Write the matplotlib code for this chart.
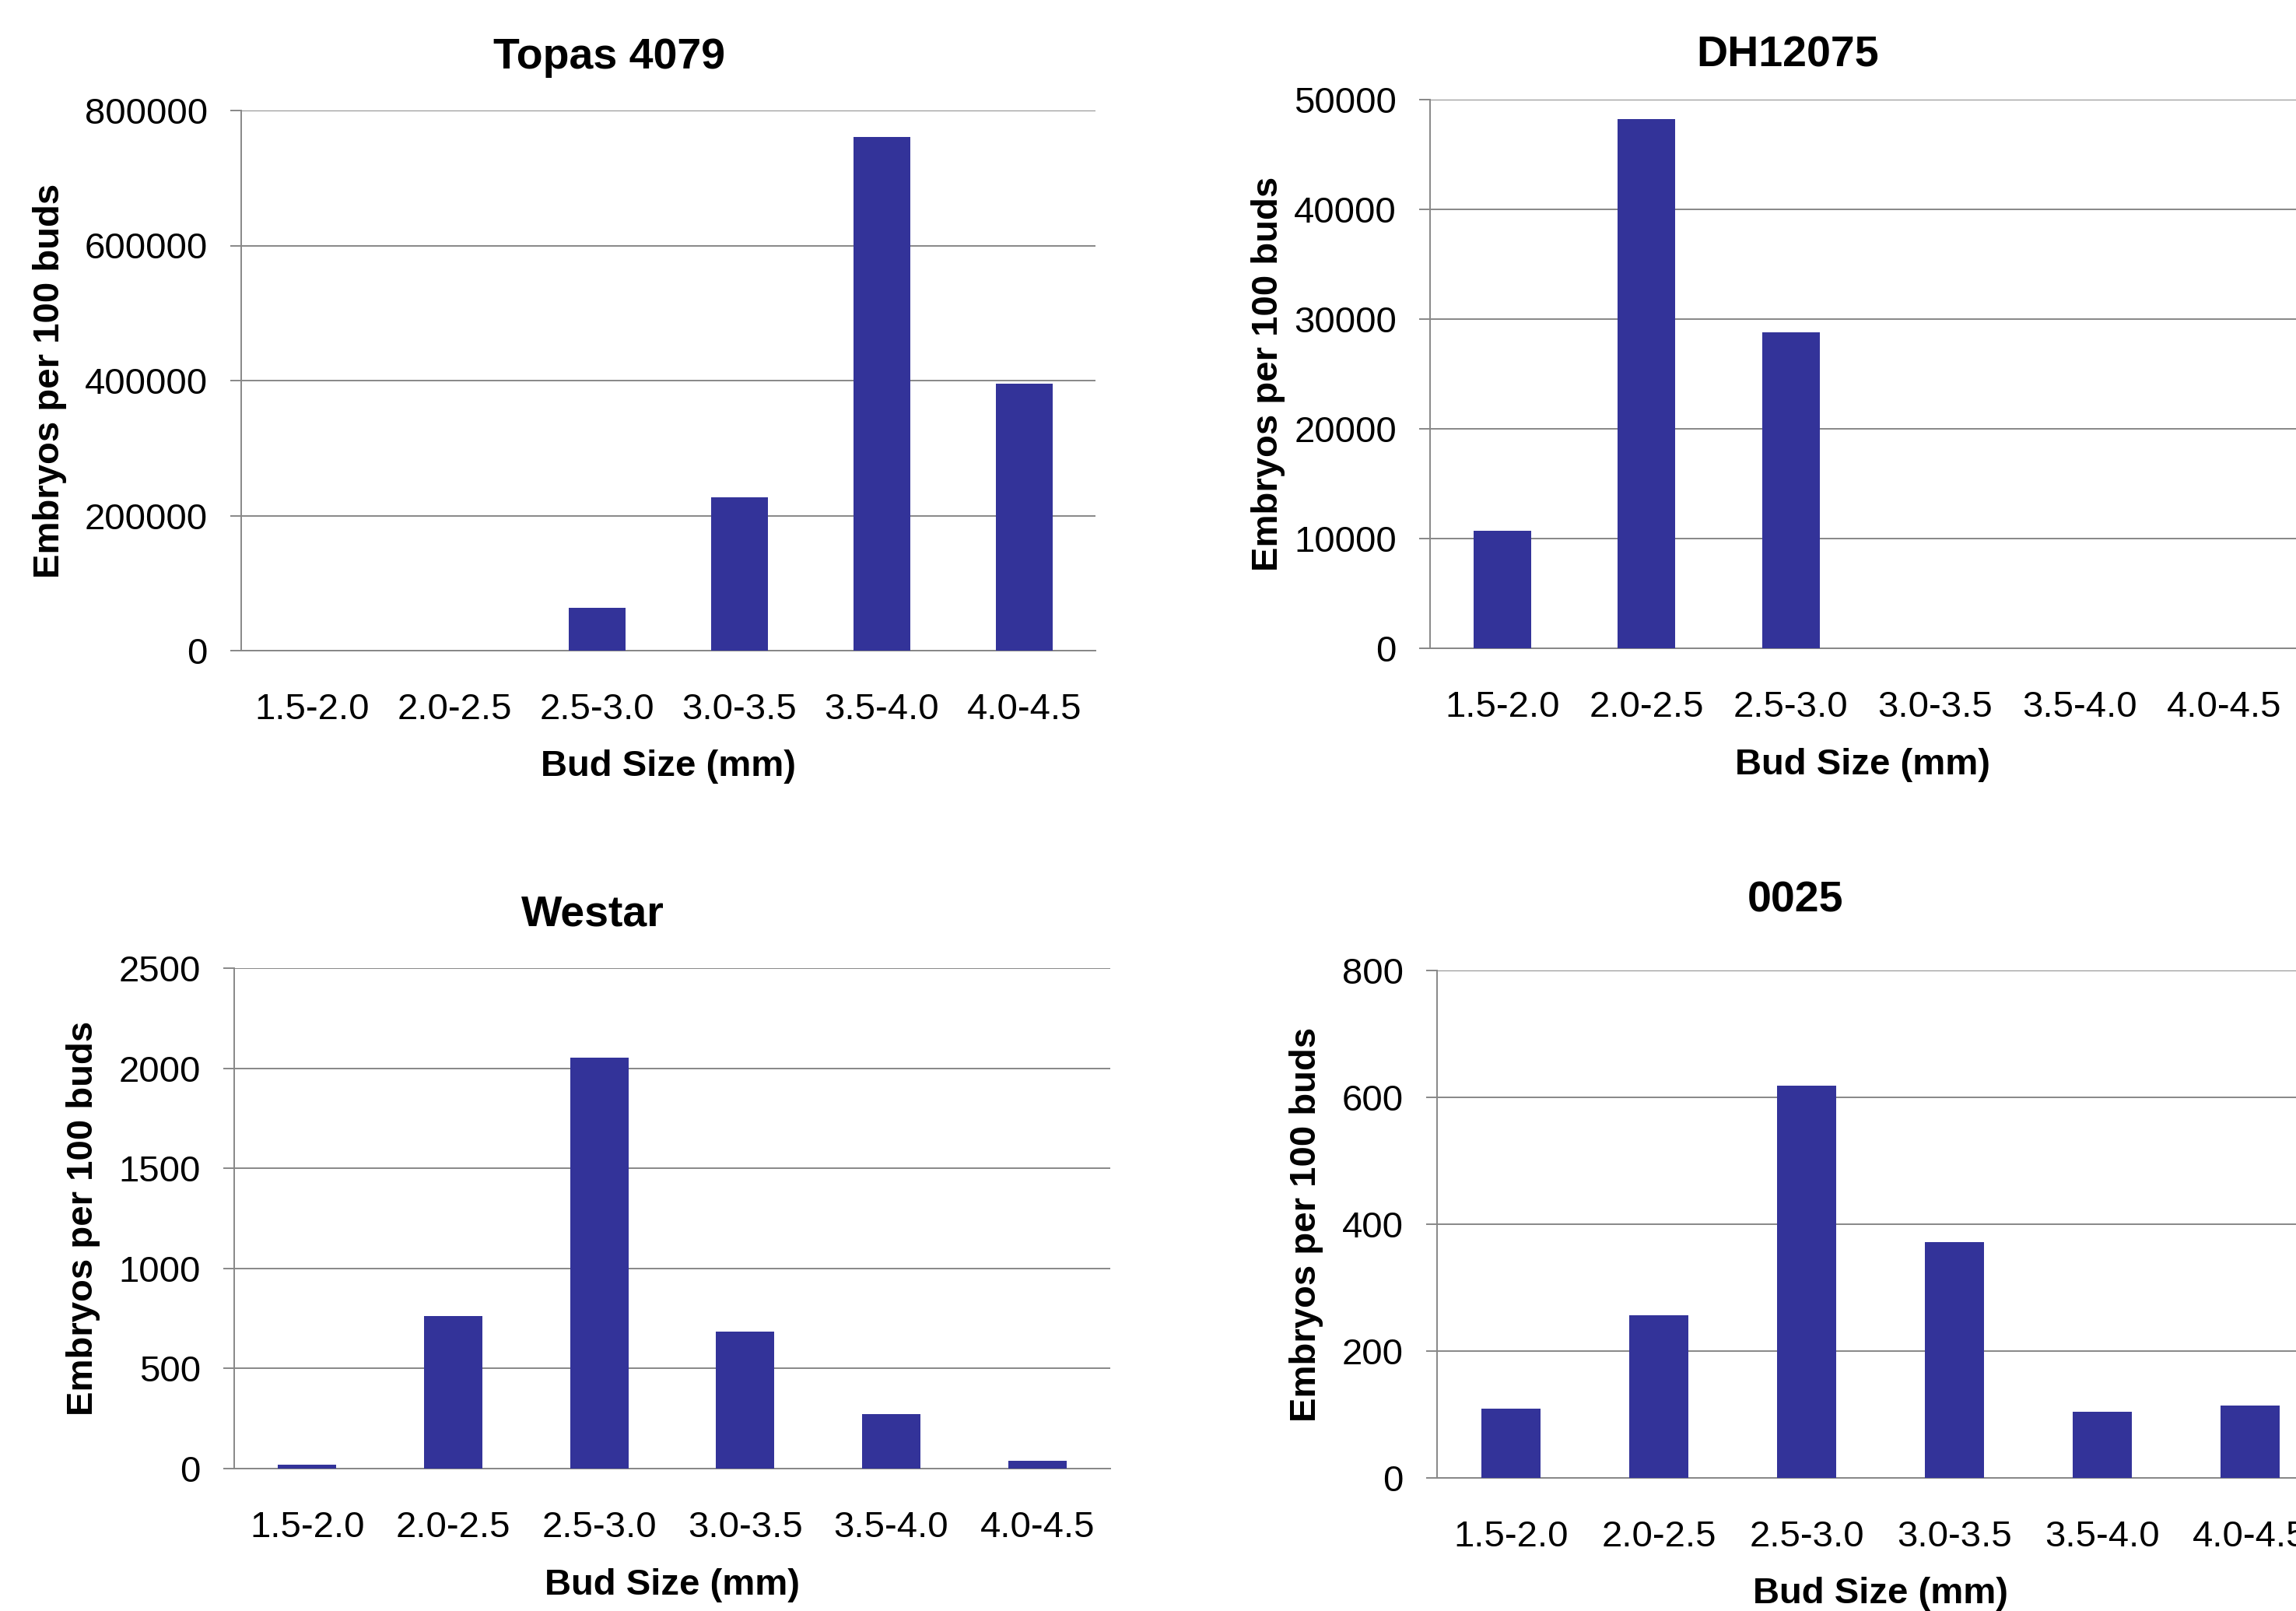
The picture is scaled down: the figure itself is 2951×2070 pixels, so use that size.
import matplotlib
matplotlib.use('Agg')
import matplotlib.pyplot as plt
import numpy as np

plt.rcParams['font.family'] = ['Liberation Sans', 'DejaVu Sans']

# bud size classes shared by all four panels
bud_sizes = ['1.5-2.0', '2.0-2.5', '2.5-3.0', '3.0-3.5', '3.5-4.0', '4.0-4.5']

# embryos per 100 buds for each genotype
topas = [0, 0, 63500, 227000, 761000, 395000]
dh12075 = [10700, 48250, 28800, 0, 0, 0]
westar = [18, 762, 2052, 683, 272, 40]
line_0025 = [109, 257, 618, 372, 104, 114]

titles = ['Topas 4079', 'DH12075', 'Westar', '0025']
y_max = [800000, 50000, 2500, 800]
y_step = [200000, 10000, 500, 200]

W, H = 2951, 2070
bar_color = '#333399'
grid_color = '#878787'

# panel boxes in pixels: left, top, right, bottom
boxes = [(310, 142, 1408, 836),
         (1838, 128, 2951, 833),
         (301, 1244, 1427, 1887),
         (1847, 1247, 2987, 1899)]
title_xy = [(783, 74), (2298, 72), (762, 1176), (2307, 1158)]
xlabel_y = [985, 983, 2037, 2048]
ylabel_x = [64, 1630, 107, 1679]

fig = plt.figure(figsize=(W / 100, H / 100), dpi=100)

for i, data in enumerate([topas, dh12075, westar, line_0025]):
    l, t, r, b = boxes[i]
    ax = fig.add_axes([l / W, 1 - b / H, (r - l) / W, (b - t) / H])
    x = np.arange(len(bud_sizes))
    ax.bar(x, data, width=0.4, color=bar_color, zorder=3)
    ax.set_xlim(-0.5, len(bud_sizes) - 0.5)
    ax.set_ylim(0, y_max[i])
    ax.set_yticks(np.arange(0, y_max[i] + 1, y_step[i]))
    ax.set_xticks(x)
    ax.set_xticklabels(bud_sizes)
    ax.yaxis.grid(True, color=grid_color, linewidth=1.4, zorder=0)
    for s in ['top', 'right']:
        ax.spines[s].set_visible(False)
    for s in ['left', 'bottom']:
        ax.spines[s].set_color(grid_color)
        ax.spines[s].set_linewidth(1.4)
    ax.tick_params(axis='y', length=10, width=1.4, color=grid_color,
                   pad=21, labelsize=34)
    ax.tick_params(axis='x', length=0, pad=39, labelsize=34)

    cx = (l + r) / 2
    fig.text(title_xy[i][0] / W, 1 - title_xy[i][1] / H, titles[i],
             ha='center', va='center', fontsize=40, fontweight='bold')
    fig.text(cx / W, 1 - xlabel_y[i] / H, 'Bud Size (mm)',
             ha='center', va='center', fontsize=34, fontweight='bold')
    fig.text(ylabel_x[i] / W, 1 - ((t + b) / 2) / H, 'Embryos per 100 buds',
             ha='center', va='center', rotation=90, fontsize=34,
             fontweight='bold')

fig.savefig('out.png', dpi=100, facecolor='white')
